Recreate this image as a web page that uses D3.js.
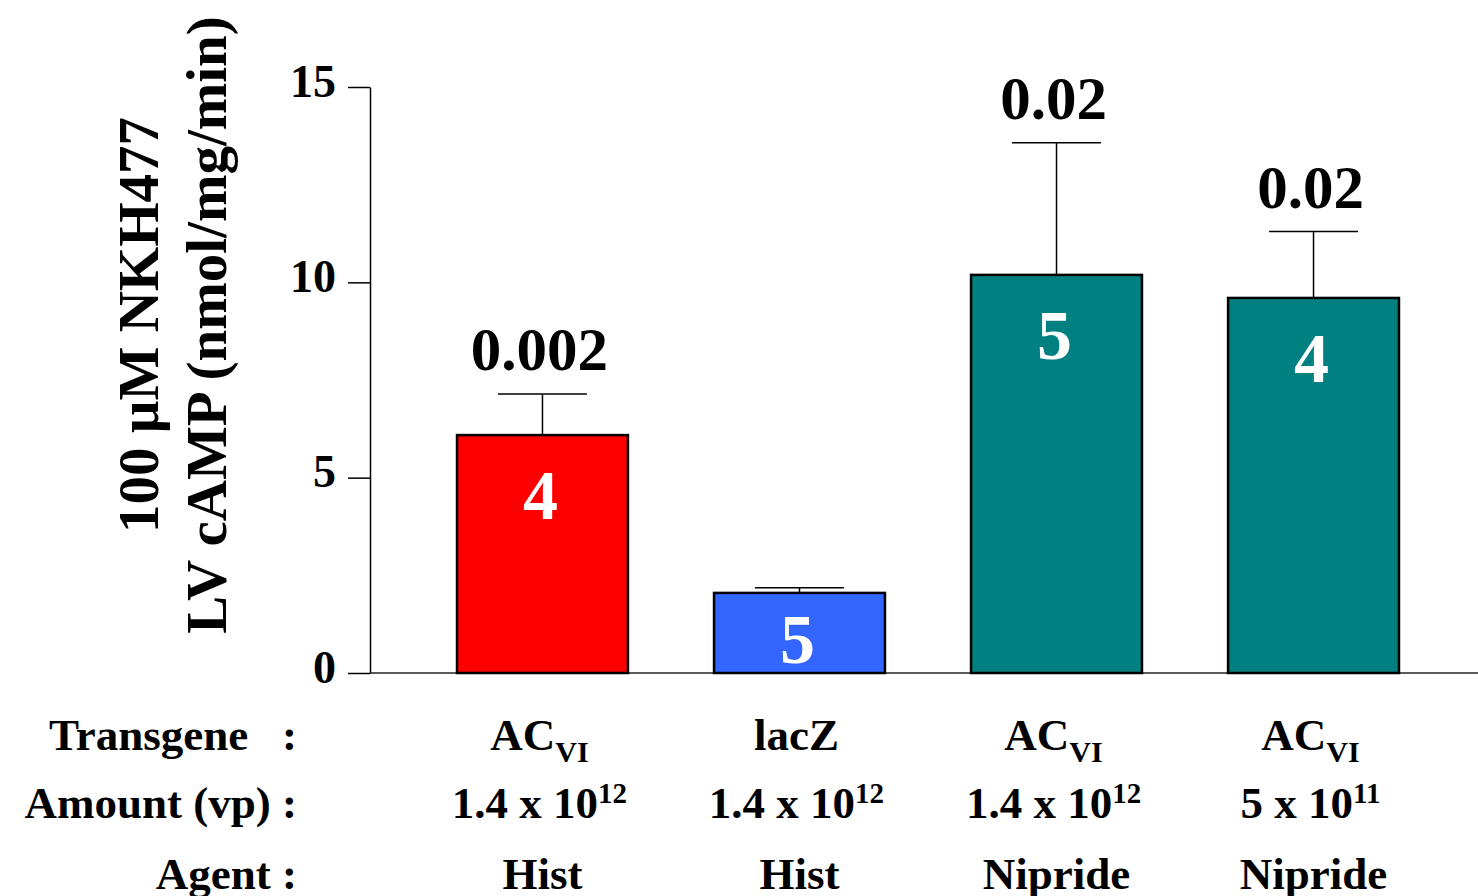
<!DOCTYPE html>
<html>
<head>
<meta charset="utf-8">
<script src="https://cdn.jsdelivr.net/npm/d3@7"></script>
<style>
  body { margin: 0; background: #fff; }
  svg { display: block; font-family: 'Liberation Serif', 'Times New Roman', serif; font-weight: bold; }
</style>
</head>
<body>
<svg id="chart" width="1478" height="896"></svg>
<script>
// values
const groups = ['g1', 'g2', 'g3', 'g4'];
const means = [6.09, 2.05, 10.19, 9.6];
const sems = [1.05, 0.13, 3.38, 1.7];
const counts = ['4', '5', '5', '4'];
const pValues = ['0.002', '', '0.02', '0.02'];
const barColors = ['#ff0000', '#3366ff', '#008080', '#008080'];
const transgene = [['AC', 'VI'], ['lacZ', ''], ['AC', 'VI'], ['AC', 'VI']];
const amountBase = ['1.4 x 10', '1.4 x 10', '1.4 x 10', '5 x 10'];
const amountExp = ['12', '12', '12', '11'];
const agents = ['Hist', 'Hist', 'Nipride', 'Nipride'];
const yTicks = [0, 5, 10, 15];
const rowTitles = ['Transgene\u00a0\u00a0\u00a0:', 'Amount (vp) :', 'Agent :'];

const width = 1478;
const axisX = 370;
const svg = d3.select('#chart');

const y = d3.scaleLinear().domain([0, 15]).range([673, 87]);
const x = d3.scaleBand()
  .domain(groups)
  .range([374, 1482])
  .paddingInner(0.335)
  .paddingOuter(0.323);

// y axis
const yAxis = svg.append('g')
  .attr('transform', `translate(${axisX},0)`)
  .call(d3.axisLeft(y).tickValues(yTicks).tickSize(22).tickPadding(12).tickSizeOuter(0));
yAxis.select('.domain').attr('stroke', '#000').attr('stroke-width', 1.5);
yAxis.selectAll('.tick line').attr('stroke', '#000').attr('stroke-width', 1.5);
yAxis.selectAll('.tick text')
  .attr('font-family', "'Liberation Serif', serif")
  .attr('font-weight', 'bold')
  .attr('font-size', 46)
  .attr('dy', '0.2em')
  .attr('fill', '#000');

// x baseline
svg.append('line')
  .attr('x1', axisX).attr('x2', width)
  .attr('y1', y(0)).attr('y2', y(0))
  .attr('stroke', '#222').attr('stroke-width', 1.5);

// y title, two lines
const titles = [['100 \u00b5M NKH477', 158], ['LV cAMP (nmol/mg/min)', 226]];
titles.forEach(([t, bx]) => {
  svg.append('text')
    .attr('transform', `translate(${bx},325) rotate(-90)`)
    .attr('text-anchor', 'middle')
    .attr('font-size', 57)
    .text(t);
});

const data = groups.map((g, i) => ({
  g, mean: means[i], sem: sems[i], n: counts[i], p: pValues[i], color: barColors[i]
}));

const bw = x.bandwidth();
const cx = d => x(d.g) + bw / 2;

// error bars (upper only)
const err = svg.append('g').attr('stroke', '#000').attr('stroke-width', 1.5);
err.selectAll('.stem').data(data).join('line')
  .attr('x1', cx).attr('x2', cx)
  .attr('y1', d => y(d.mean)).attr('y2', d => y(d.mean + d.sem));
err.selectAll('.cap').data(data).join('line')
  .attr('x1', d => cx(d) - bw * 0.26).attr('x2', d => cx(d) + bw * 0.26)
  .attr('y1', d => y(d.mean + d.sem)).attr('y2', d => y(d.mean + d.sem));

// bars
svg.append('g').selectAll('rect').data(data).join('rect')
  .attr('x', d => x(d.g))
  .attr('width', bw)
  .attr('y', d => y(d.mean))
  .attr('height', d => y(0) - y(d.mean))
  .attr('fill', d => d.color)
  .attr('stroke', '#000')
  .attr('stroke-width', 2.5);

// n inside bars
svg.append('g').selectAll('text').data(data).join('text')
  .attr('x', d => cx(d) - 2)
  .attr('y', d => Math.min(y(d.mean) + 84, y(0) - 10))
  .attr('text-anchor', 'middle')
  .attr('font-size', 70)
  .attr('fill', '#fff')
  .text(d => d.n);

// p values above error bars
svg.append('g').selectAll('text').data(data.filter(d => d.p)).join('text')
  .attr('x', d => cx(d) - 3)
  .attr('y', d => y(d.mean + d.sem) - 24)
  .attr('text-anchor', 'middle')
  .attr('font-size', 61)
  .text(d => d.p);

// table under the chart
const rowY = [750, 818, 889];
rowTitles.forEach((t, i) => {
  svg.append('text')
    .attr('x', 297).attr('y', rowY[i])
    .attr('text-anchor', 'end')
    .attr('font-size', 45)
    .style('white-space', 'pre')
    .text(t);
});

const labels = svg.append('g').attr('font-size', 45).attr('text-anchor', 'middle');
groups.forEach((g, i) => {
  const mid = x(g) + bw / 2;
  const t1 = labels.append('text').attr('x', mid - 3).attr('y', rowY[0]);
  t1.append('tspan').text(transgene[i][0]);
  if (transgene[i][1]) {
    t1.append('tspan').attr('font-size', 30).attr('dy', 12).text(transgene[i][1]);
  }
  const t2 = labels.append('text').attr('x', mid - 3).attr('y', rowY[1]);
  t2.append('tspan').text(amountBase[i]);
  t2.append('tspan').attr('font-size', 29).attr('dy', -15).text(amountExp[i]);
  labels.append('text').attr('x', mid).attr('y', rowY[2]).text(agents[i]);
});
</script>
</body>
</html>
